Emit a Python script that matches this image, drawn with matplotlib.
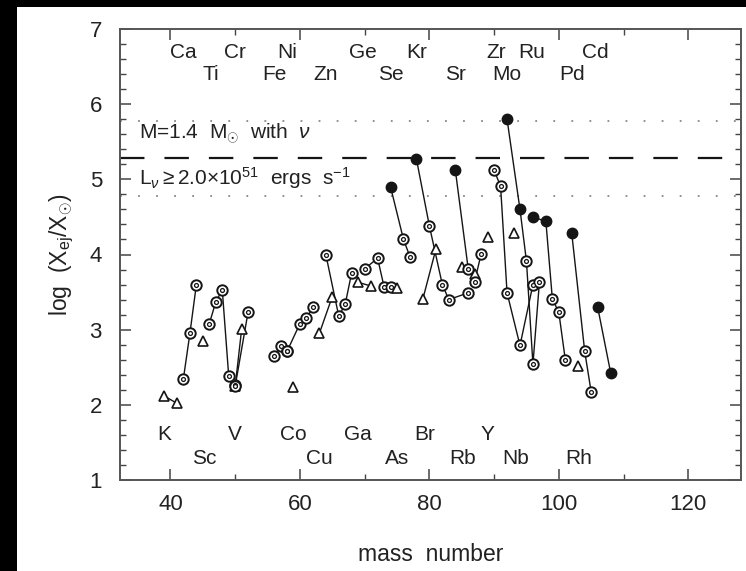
import matplotlib
matplotlib.use('Agg')
import matplotlib.pyplot as plt
from matplotlib.patches import Rectangle
from matplotlib.ticker import MultipleLocator

plt.rcParams['font.family'] = ['Liberation Sans', 'DejaVu Sans']
plt.rcParams['mathtext.fontset'] = 'custom'
plt.rcParams['mathtext.rm'] = 'Liberation Sans'
plt.rcParams['mathtext.it'] = 'Liberation Sans:italic'

# isotopes of each element: mass numbers and log(X_ej/X_sun)
isotopes = {
    'K':  ([39, 41], [2.12, 2.02]),
    'Ca': ([42, 43, 44], [2.35, 2.95, 3.60]),
    'Sc': ([45], [2.85]),
    'Ti': ([46, 47, 48, 49, 50], [3.08, 3.37, 3.53, 2.38, 2.27]),
    'V':  ([50, 51], [2.25, 3.01]),
    'Cr': ([50, 52], [2.25, 3.24]),
    'Fe': ([56, 57, 58], [2.65, 2.78, 2.71]),
    'Co': ([59], [2.24]),
    'Ni': ([58, 60, 61, 62], [2.71, 3.08, 3.15, 3.30]),
    'Cu': ([63, 65], [2.95, 3.44]),
    'Zn': ([64, 66, 67, 68], [4.00, 3.18, 3.34, 3.76]),
    'Ga': ([69, 71], [3.63, 3.58]),
    'Ge': ([70, 72, 73, 74], [3.81, 3.95, 3.57, 3.57]),
    'As': ([75], [3.55]),
    'Se': ([74, 76, 77], [4.90, 4.20, 3.97]),
    'Br': ([79, 81], [3.41, 4.07]),
    'Kr': ([78, 80, 82, 83, 86], [5.27, 4.38, 3.60, 3.40, 3.49]),
    'Rb': ([85, 87], [3.83, 3.74]),
    'Sr': ([84, 86, 87, 88], [5.13, 3.81, 3.64, 4.01]),
    'Y':  ([89], [4.23]),
    'Zr': ([90, 91, 92, 94, 96], [5.12, 4.91, 3.49, 2.79, 3.60]),
    'Nb': ([93], [4.28]),
    'Mo': ([92, 94, 95, 96, 97], [5.80, 4.60, 3.91, 2.54, 3.63]),
    'Ru': ([96, 98, 99, 100, 101], [4.50, 4.44, 3.41, 3.23, 2.60]),
    'Rh': ([103], [2.51]),
    'Pd': ([102, 104, 105], [4.28, 2.71, 2.17]),
    'Cd': ([106, 108], [3.30, 2.43]),
}
odd_z = ['K', 'Sc', 'V', 'Co', 'Cu', 'Ga', 'As', 'Br', 'Rb', 'Y', 'Nb', 'Rh']
p_nuclei = [('Se', 74), ('Kr', 78), ('Sr', 84), ('Mo', 92), ('Mo', 94),
            ('Ru', 96), ('Ru', 98), ('Pd', 102), ('Cd', 106), ('Cd', 108)]

# element names along the top and bottom (two staggered rows each)
top1 = [('Ca', 42), ('Cr', 50), ('Ni', 58), ('Ge', 69.8), ('Kr', 78), ('Zr', 90.3), ('Ru', 95.8), ('Cd', 105.7)]
top2 = [('Ti', 46.2), ('Fe', 56), ('Zn', 63.9), ('Se', 74), ('Sr', 84), ('Mo', 92), ('Pd', 102)]
bot1 = [('K', 39), ('V', 49.9), ('Co', 59), ('Ga', 69), ('Br', 79.2), ('Y', 88.9)]
bot2 = [('Sc', 45.2), ('Cu', 63), ('As', 75), ('Rb', 85.2), ('Nb', 93.3), ('Rh', 103)]

center = 5.28
band = 0.5

W, H = 746, 571
fig = plt.figure(figsize=(W / 100, H / 100), dpi=100, facecolor='black')
fig.patches.append(Rectangle((17 / W, 0), 1, 1 - 7 / H, transform=fig.transFigure,
                             facecolor='white', edgecolor='none', zorder=-10))
ax = fig.add_axes([120 / W, 1 - 480 / H, 620.7 / W, 451 / H])

ink = '#151515'
for el, (m, v) in isotopes.items():
    ax.plot(m, v, '-', color=ink, lw=1.0, zorder=2)
    for mi, vi in zip(m, v):
        if (el, mi) in p_nuclei:
            ax.plot(mi, vi, 'o', ms=7.5, mfc=ink, mec=ink, zorder=3)
        elif el in odd_z:
            ax.plot(mi, vi, '^', ms=7.5, mfc='white', mec=ink, mew=1.2, zorder=3)
        else:
            ax.plot(mi, vi, 'o', ms=7.5, mfc='white', mec=ink, mew=1.4, zorder=3)
            ax.plot(mi, vi, 'o', ms=2.8, mfc='white', mec=ink, mew=0.9, zorder=4)

ax.axhline(center, color=ink, lw=1.6, dashes=(11, 9), zorder=1)
ax.axhline(center + band, color='#888888', lw=1.3, dashes=(1, 9), zorder=1)
ax.axhline(center - band, color='#888888', lw=1.3, dashes=(1, 9), zorder=1)

tc = '#222222'
fs = 15
ax.text(35.2, 5.60, r'M=1.4  M$_{\odot}$  with  $\nu$', fontsize=fs, color=tc, va='center')
ax.text(35.2, 5.02, r'L$_{\nu}$$\geq$2.0$\times$10$^{51}$  ergs  s$^{-1}$', fontsize=fs, color=tc, va='center')

for name, x in top1:
    ax.text(x, 6.69, name, fontsize=fs, color=tc, ha='center', va='center')
for name, x in top2:
    ax.text(x, 6.39, name, fontsize=fs, color=tc, ha='center', va='center')
for name, x in bot1:
    ax.text(x, 1.60, name, fontsize=fs, color=tc, ha='center', va='center')
for name, x in bot2:
    ax.text(x, 1.28, name, fontsize=fs, color=tc, ha='center', va='center')

ax.set_xlim(32.2, 128.1)
ax.set_ylim(1, 7)
ax.xaxis.set_major_locator(MultipleLocator(20))
ax.xaxis.set_minor_locator(MultipleLocator(10))
ax.yaxis.set_major_locator(MultipleLocator(1))
ax.yaxis.set_minor_locator(MultipleLocator(0.2))
ax.tick_params(which='both', direction='in', top=True, right=True, colors='#444444',
               labelcolor=tc, labelsize=16)
ax.tick_params(which='major', length=8, width=1.1)
ax.tick_params(which='minor', length=4.5, width=1.0)
ax.tick_params(axis='x', pad=10)
ax.tick_params(axis='y', pad=13)
for s in ax.spines.values():
    s.set_color('#555555')
    s.set_linewidth(1.4)

ax.set_xlabel('mass  number', fontsize=16.5, color=tc, labelpad=20)
ax.set_ylabel(r'log  (X$_{\rm ej}$/X$_{\odot}$)', fontsize=16.5, color=tc, labelpad=10)

fig.savefig('out.png', dpi=100, facecolor=fig.get_facecolor())
